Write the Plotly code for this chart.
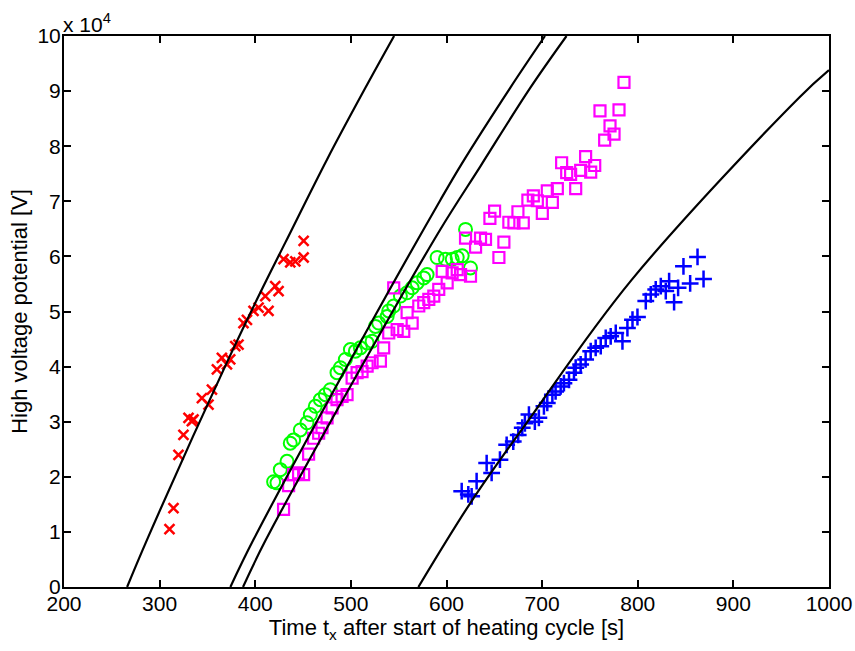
import plotly.graph_objects as go

# ---- data (time in s, voltage in units of 10^4 V) ----
red_t = [310.3, 314.5, 319.7, 324.9, 330.2, 333.7, 335.4, 344.2, 351.1, 354.7, 359.9, 365.1,
         370.4, 373.8, 379.1, 382.5, 387.7, 391.3, 398.2, 403.5, 410.5, 413.9, 420.9, 424.4,
         429.6, 436.6, 441.9, 450.6, 450.6]
red_v = [1.05, 1.43, 2.40, 2.76, 3.07, 3.01, 3.04, 3.43, 3.31, 3.58, 3.95, 4.16,
         4.04, 4.13, 4.37, 4.40, 4.79, 4.85, 5.01, 5.07, 5.28, 5.01, 5.46, 5.37,
         5.95, 5.89, 5.91, 5.98, 6.28]

green_t = [419.2, 422.7, 426.2, 433.2, 436.6, 440.1, 447.1, 454.1, 457.6, 462.8, 468.1, 473.3,
           478.5, 485.5, 489.0, 494.2, 499.5, 504.7, 509.9, 517.0, 522.2, 525.7, 529.1, 537.9,
           539.6, 544.8, 551.8, 558.8, 564.1, 569.3, 576.2, 579.7, 590.2, 598.9, 606.0, 611.2,
           616.4, 625.1, 619.9]
green_v = [1.91, 1.89, 2.13, 2.28, 2.61, 2.67, 2.85, 2.98, 3.13, 3.28, 3.40, 3.49,
           3.58, 3.89, 3.98, 4.13, 4.31, 4.28, 4.34, 4.43, 4.46, 4.73, 4.79, 4.91,
           5.01, 5.10, 5.28, 5.34, 5.43, 5.52, 5.61, 5.67, 5.98, 5.95, 5.95, 5.98,
           6.01, 5.79, 6.49]

magenta_t = [429.6, 434.9, 440.1, 445.3, 450.6, 455.8, 461.0, 466.3, 469.8, 475.1, 480.3, 485.5,
             490.8, 496.0, 501.3, 506.5, 511.7, 517.0, 522.2, 530.9, 534.3, 539.6, 548.4, 555.3,
             564.1, 558.8, 571.0, 576.2, 581.5, 586.7, 591.9, 544.8, 595.5, 600.7, 605.9, 611.2,
             614.7, 625.1, 619.9, 630.4, 635.6, 640.8, 645.4, 650.3, 654.8, 660.0, 665.2, 670.5,
             674.7, 680.3, 685.1, 690.8, 695.0, 700.2, 705.4, 710.7, 715.9, 720.4, 725.7, 729.8,
             735.1, 740.3, 745.5, 750.8, 755.0, 760.5, 765.4, 771.0, 775.2, 780.4, 785.6]
magenta_v = [1.41, 1.84, 2.04, 2.07, 2.04, 2.41, 2.70, 2.79, 2.89, 3.07, 3.25, 3.40,
             3.46, 3.49, 3.79, 3.89, 3.91, 4.01, 4.07, 4.10, 4.34, 4.61, 4.67, 4.64,
             4.79, 4.98, 5.10, 5.16, 5.22, 5.28, 5.40, 5.43, 5.73, 5.52, 5.70, 5.76,
             5.67, 5.64, 6.33, 6.17, 6.33, 6.31, 6.69, 6.82, 5.98, 6.26, 6.62, 6.61,
             6.81, 6.61, 7.02, 7.10, 7.01, 6.78, 7.19, 6.98, 7.23, 7.70, 7.52, 7.49,
             7.23, 7.56, 7.81, 7.53, 7.65, 8.64, 8.11, 8.37, 8.22, 8.66, 9.16]

blue_t = [615.9, 622.8, 626.3, 631.5, 642.0, 647.2, 655.9, 662.9, 669.8, 675.0, 679.2, 682.0,
          686.2, 692.4, 696.6, 701.9, 705.4, 710.7, 714.1, 719.4, 722.8, 728.1, 733.3, 735.1,
          740.3, 745.5, 750.8, 756.0, 761.3, 766.5, 771.7, 777.0, 784.0, 789.2, 794.5, 799.7,
          808.4, 813.6, 818.8, 824.1, 829.3, 832.8, 838.0, 842.2, 847.8, 854.8, 862.5, 868.8]
blue_v = [1.74, 1.68, 1.645, 1.92, 2.25, 2.07, 2.31, 2.58, 2.64, 2.76, 2.89, 2.97,
          3.13, 3.00, 3.07, 3.28, 3.34, 3.49, 3.55, 3.64, 3.70, 3.76, 3.89, 3.98,
          4.04, 4.13, 4.28, 4.34, 4.37, 4.52, 4.55, 4.61, 4.46, 4.70, 4.85, 4.90,
          5.19, 5.31, 5.40, 5.46, 5.37, 5.55, 5.17, 5.43, 5.82, 5.51, 5.99, 5.59]

# model curves
curve1_t = [266.0, 286.9, 371.0, 405.2, 431.4, 475.1, 514.9, 545.2]
curve1_v = [0.0, 0.86, 4.10, 5.34, 6.25, 7.76, 9.05, 10.0]
curve2_t = [374.0, 398.2, 515.0, 593.5, 615.9, 666.3, 703.0]
curve2_v = [0.0, 0.86, 4.60, 7.02, 7.68, 9.05, 10.0]
curve3_t = [387.2, 411.2, 528.0, 593.2, 635.6, 687.2, 725.5]
curve3_v = [0.0, 0.86, 4.52, 6.48, 7.64, 9.05, 10.0]
curve4_t = [570.6, 626.3, 683.8, 793.4, 969.2, 1000.0]
curve4_v = [0.0, 1.56, 2.98, 5.57, 8.89, 9.38]

x_ticks = [200, 300, 400, 500, 600, 700, 800, 900, 1000]
y_ticks = [0, 1, 2, 3, 4, 5, 6, 7, 8, 9, 10]

FONT = "Liberation Sans, Arial, Helvetica, sans-serif"
FS = 21
FS_TITLE = 22

fig = go.Figure()

def pts(t, v, symbol, color, size, lw):
    fig.add_trace(go.Scatter(
        x=t, y=v, mode="markers",
        marker=dict(symbol=symbol, size=size, color=color,
                    line=dict(color=color, width=lw)),
        showlegend=False, hoverinfo="skip"))

pts(red_t, red_v, "x-thin", "#ff0000", 10, 2.5)
pts(green_t, green_v, "circle-open", "#00ff00", 13, 2)
pts(magenta_t, magenta_v, "square-open", "#ff00ff", 11, 2.2)
pts(blue_t, blue_v, "cross-thin", "#0000ff", 12, 2.5)

for t, v in [(curve1_t, curve1_v), (curve2_t, curve2_v),
             (curve3_t, curve3_v), (curve4_t, curve4_v)]:
    fig.add_trace(go.Scatter(
        x=t, y=v, mode="lines",
        line=dict(color="black", width=2.2, shape="spline", smoothing=1.0),
        showlegend=False, hoverinfo="skip"))

axis_common = dict(
    showline=True, linecolor="black", linewidth=2, mirror="ticks",
    ticks="inside", ticklen=7, tickwidth=2, tickcolor="black",
    showgrid=False, zeroline=False, automargin=False,
    tickfont=dict(family=FONT, size=FS, color="black"),
)

fig.update_layout(
    width=855, height=651, autosize=False,
    margin=dict(l=64, r=26, t=36, b=64),
    paper_bgcolor="white", plot_bgcolor="white",
    font=dict(family=FONT, size=FS, color="black"),
    xaxis=dict(range=[200, 1000], tickvals=x_ticks,
               ticktext=[str(v) for v in x_ticks],
               ticklabelstandoff=-3,
               title=dict(text="Time t<sub>x</sub> after start of heating cycle [s]",
                          font=dict(family=FONT, size=FS_TITLE), standoff=4),
               **axis_common),
    yaxis=dict(range=[0, 10], tickvals=y_ticks,
               ticktext=[str(v) for v in y_ticks],
               ticklabelstandoff=-3,
               title=dict(text="High voltage potential [V]",
                          font=dict(family=FONT, size=FS_TITLE), standoff=4),
               **axis_common),
    annotations=[dict(text="x 10<sup>4</sup>", xref="paper", yref="paper",
                      x=0, y=1, xanchor="left", yanchor="bottom",
                      showarrow=False, xshift=-3, yshift=-2,
                      font=dict(family=FONT, size=FS, color="black"))],
)

# remove the default 8px page margin so the figure sits at the window's top-left
fig.write_html("out.html",
               config={"displayModeBar": False},
               post_script="document.body.style.margin='0px';"
                           "document.body.style.overflow='hidden';")
